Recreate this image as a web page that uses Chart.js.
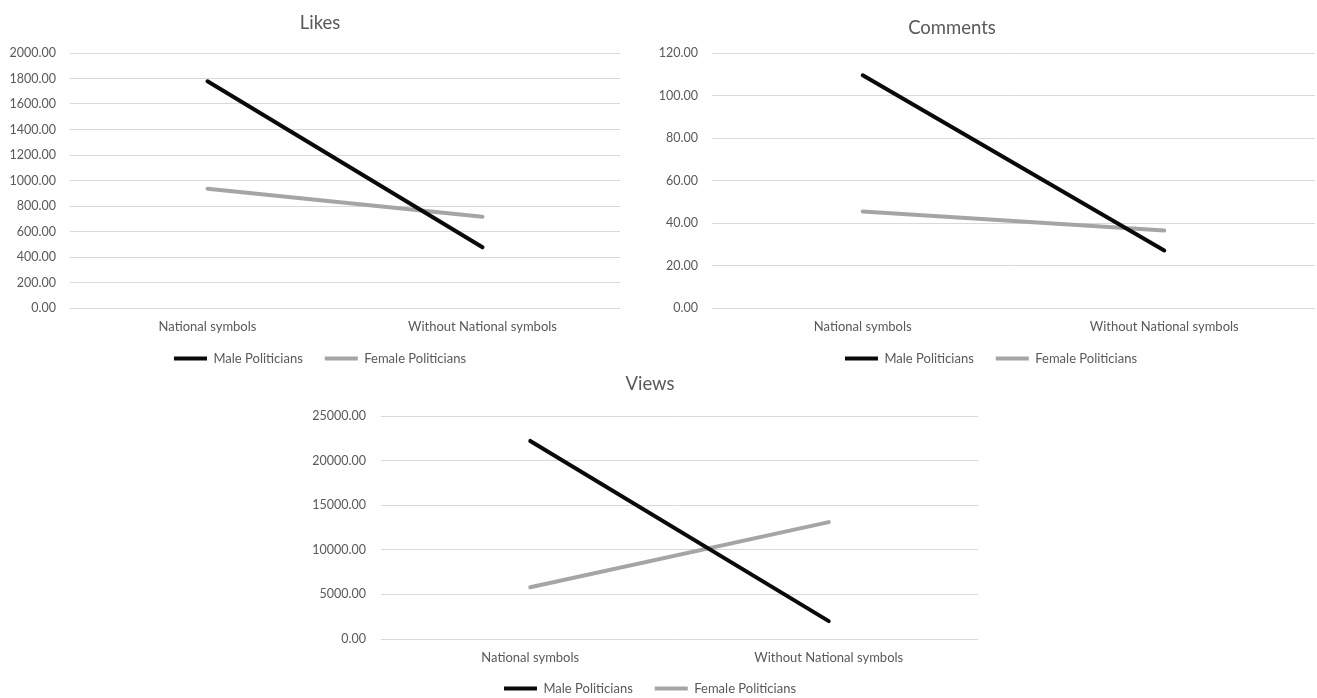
<!DOCTYPE html>
<html>
<head>
<meta charset="utf-8">
<script src="https://cdn.jsdelivr.net/npm/chart.js@4/dist/chart.umd.min.js"></script>
<style>
  html, body { margin: 0; padding: 0; background: #ffffff; overflow: hidden; }
  body { position: relative; width: 1317px; height: 698px; }
  .box { position: absolute; }
  .title {
    position: absolute; font-family: Lato, "Open Sans", sans-serif; font-size: 18.5px;
    color: #595959; transform: translate(-50%, -50%); white-space: nowrap;
  }
</style>
</head>
<body>
<div class="box" style="left:0px;top:0px;width:640px;height:375px;"><canvas id="likes"></canvas></div>
<div class="box" style="left:655px;top:0px;width:672px;height:375px;"><canvas id="comments"></canvas></div>
<div class="box" style="left:300px;top:370px;width:700px;height:335px;"><canvas id="views"></canvas></div>
<div class="title" style="left:320px;top:22px;">Likes</div>
<div class="title" style="left:952px;top:27px;">Comments</div>
<div class="title" style="left:650px;top:383px;">Views</div>
<script>
// Categories and series
const categories = ['National symbols', 'Without National symbols'];
const seriesNames = ['Male Politicians', 'Female Politicians'];

const likesMale = [1778, 476];
const likesFemale = [936, 716];

const commentsMale = [109.5, 27.1];
const commentsFemale = [45.4, 36.5];

const viewsMale = [22200, 2000];
const viewsFemale = [5800, 13100];

// Value-axis ranges: [min, max, step]
const likesTicks = [0, 2000, 200];
const commentsTicks = [0, 120, 20];
const viewsTicks = [0, 25000, 5000];

const TEXT = '#595959';
const GRID = '#d9d9d9';
const MALE = '#0a0a0a';
const FEMALE = '#a5a5a5';
const FONT = 'Lato, "Open Sans", sans-serif';

// Let tick labels spill outside their axis box instead of being clipped
const noLabelClip = scale => { scale._computeLabelArea = () => undefined; };

function makeChart(id, male, female, ticks, geo) {
  const ctx = document.getElementById(id);
  return new Chart(ctx, {
    type: 'line',
    data: {
      labels: categories,
      datasets: [
        { label: seriesNames[0], data: male, borderColor: MALE, backgroundColor: MALE,
          borderWidth: 4, pointRadius: 0, borderCapStyle: 'round', tension: 0 },
        { label: seriesNames[1], data: female, borderColor: FEMALE, backgroundColor: FEMALE,
          borderWidth: 4, pointRadius: 0, borderCapStyle: 'round', tension: 0 }
      ]
    },
    options: {
      responsive: true,
      maintainAspectRatio: false,
      animation: false,
      layout: { padding: { top: geo.top, right: geo.right, bottom: 0, left: geo.left } },
      plugins: {
        title: { display: false },
        tooltip: { enabled: false },
        legend: {
          position: 'bottom',
          labels: {
            color: TEXT,
            font: { family: FONT, size: 13 },
            boxWidth: 33,
            boxHeight: 4,
            padding: 22,
            generateLabels(chart) {
              const items = Chart.defaults.plugins.legend.labels.generateLabels(chart);
              items.forEach(it => { it.lineWidth = 0; });
              return items;
            }
          }
        }
      },
      scales: {
        x: {
          offset: true,
          grid: { display: false, drawTicks: false },
          border: { display: false },
          ticks: { color: TEXT, font: { family: FONT, size: 13 }, padding: geo.xPad, maxRotation: 0 },
          afterFit(scale) { scale.height = geo.xHeight; noLabelClip(scale); }
        },
        y: {
          min: ticks[0], max: ticks[1],
          grid: { color: GRID, lineWidth: 1, drawTicks: false },
          border: { display: false },
          ticks: {
            stepSize: ticks[2], color: TEXT, font: { family: FONT, size: 12.5 }, padding: geo.yPad,
            callback: v => Number(v).toFixed(2)
          },
          afterFit(scale) { scale.width = geo.yWidth; noLabelClip(scale); }
        }
      }
    }
  });
}

makeChart('likes', likesMale, likesFemale, likesTicks,
  { top: 53, right: 20, left: 20, yWidth: 50, yPad: 14, xHeight: 22, xPad: 11 });
makeChart('comments', commentsMale, commentsFemale, commentsTicks,
  { top: 53, right: 12, left: 12, yWidth: 45, yPad: 14, xHeight: 22, xPad: 11 });
makeChart('views', viewsMale, viewsFemale, viewsTicks,
  { top: 46, right: 22, left: 22, yWidth: 59, yPad: 15, xHeight: 21, xPad: 11 });
</script>
</body>
</html>
